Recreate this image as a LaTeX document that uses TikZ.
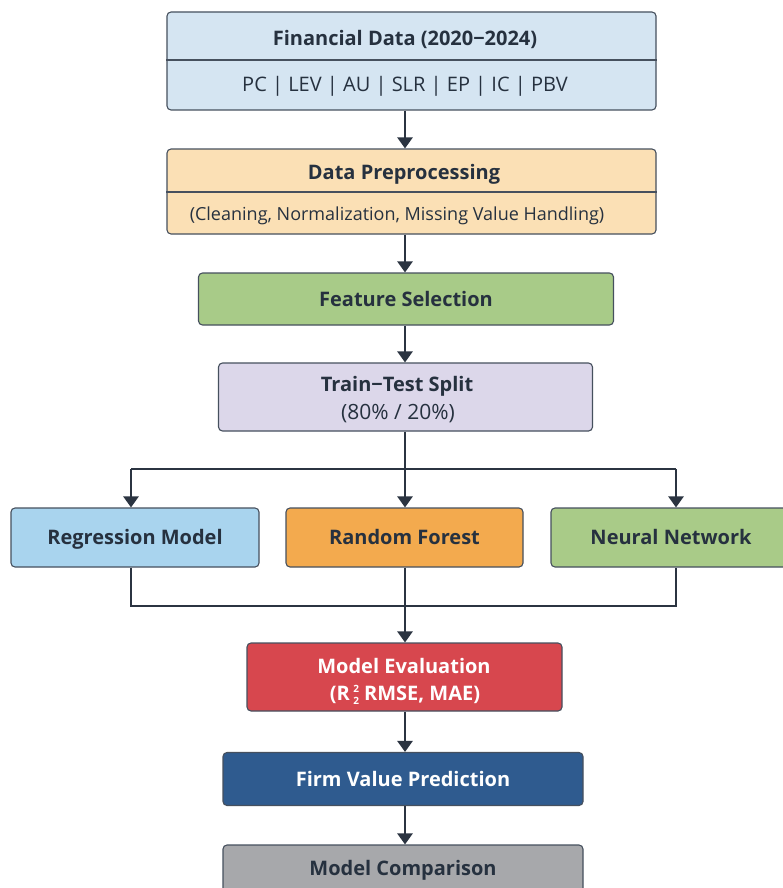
\documentclass[tikz,border=0pt]{standalone}
\usepackage{fontspec}
\setmainfont{Open Sans}
\usetikzlibrary{arrows.meta}
\definecolor{edgec}{HTML}{46505E}
\definecolor{txtc}{HTML}{26313F}
\definecolor{arrc}{HTML}{2B3441}
\definecolor{c1}{HTML}{D5E5F2}
\definecolor{c2}{HTML}{FBE0B5}
\definecolor{c3}{HTML}{A8CB88}
\definecolor{c4}{HTML}{DCD7EA}
\definecolor{c5}{HTML}{A9D4EE}
\definecolor{c6}{HTML}{F3AA4E}
\definecolor{c7}{HTML}{A9CB88}
\definecolor{c8}{HTML}{D7474E}
\definecolor{c9}{HTML}{2F5B8F}
\definecolor{c10}{HTML}{A7A8AB}
\newcommand{\rscripts}{\makebox[0pt][l]{\raisebox{8pt}{\fontsize{10}{10}\selectfont 2}}\raisebox{-4pt}{\fontsize{10}{10}\selectfont 2}}
\tikzset{
  box/.style={draw=edgec, line width=1.1pt, rounded corners=4pt, inner sep=0pt},
  lbl/.style={text=txtc, inner sep=0pt, text height=14.5pt, text depth=0.5pt, font=\fontsize{20}{24}\selectfont\bfseries},
  sub/.style={text=txtc, inner sep=0pt, text height=14.5pt, text depth=0.5pt, font=\fontsize{20}{24}\selectfont},
  arr/.style={draw=arrc, line width=2.4pt, -{Triangle[width=15pt,length=11pt]}},
  ln/.style={draw=arrc, line width=2.4pt}
}
\begin{document}
\begin{tikzpicture}[x=1pt,y=-1pt]
\useasboundingbox[fill=white] (0,0) rectangle (783,888);
\coordinate (spine) at (405,0);
% box 1
\node[box, fill=c1, minimum width=489pt, minimum height=98pt] (b1) at (411.5,61) {};
\draw[edgec, line width=1.1pt] (b1.west |- 0,60) -- (b1.east |- 0,60);
\node[lbl] (t1) at (405,39) {Financial Data (2020−2024)};
\node[sub] (s1) at (405,85) {PC | LEV | AU | SLR | EP | IC | PBV};
% box 2
\node[box, fill=c2, minimum width=489pt, minimum height=85pt] (b2) at (411.5,191.5) {};
\draw[edgec, line width=1.1pt] (b2.west |- 0,192) -- (b2.east |- 0,192);
\node[lbl] (t2) at (404,172) {Data Preprocessing};
\node[sub, font=\fontsize{18}{22}\selectfont] (s2) at (397,213) {(Cleaning, Normalization, Missing Value Handling)};
% box 3
\node[box, fill=c3, minimum width=415pt, minimum height=52pt, lbl] (b3) at (406,299) {Feature Selection};
% box 4
\node[box, fill=c4, minimum width=374pt, minimum height=68pt] (b4) at (405.5,397) {};
\node[lbl] (t4) at (397,384) {Train−Test Split};
\node[sub, font=\fontsize{21}{24}\selectfont] (s4) at (398,412) {(80\% / 20\%)};
% row
\node[box, fill=c5, minimum width=248pt, minimum height=59pt, lbl] (b5) at (135,537.5) {Regression Model};
\node[box, fill=c6, minimum width=237pt, minimum height=59pt, lbl] (b6) at (404.5,537.5) {Random Forest};
\node[box, fill=c7, minimum width=250pt, minimum height=59pt] (b7) at (676,537.5) {};
\node[lbl] (t7) at (671,537) {Neural Network};
% eval
\node[box, fill=c8, minimum width=315pt, minimum height=68pt] (b8) at (404.5,677) {};
\node[lbl, text=white] (t8) at (404,666) {Model Evaluation};
\node[lbl, text=white] (s8) at (405,693) {(R\,\rscripts\ RMSE, MAE)};
% firm
\node[box, fill=c9, minimum width=360pt, minimum height=53pt, lbl, text=white] (b9) at (403,779) {Firm Value Prediction};
% comparison
\node[box, fill=c10, minimum width=360pt, minimum height=50pt] (b10) at (403,870) {};
\node[lbl] (t10) at (403,868) {Model Comparison};
% connectors
\coordinate (bl) at (131,469);
\coordinate (br) at (676,469);
\coordinate (ml) at (131,606);
\coordinate (mr) at (676,606);
\draw[arr] (b1.south -| spine) -- (b2.north -| spine);
\draw[arr] (b2.south -| spine) -- (b3.north -| spine);
\draw[arr] (b3.south -| spine) -- (b4.north -| spine);
\draw[ln] (b4.south -| spine) -- (spine |- bl);
\draw[ln] (bl) -- (br);
\draw[arr] (bl) -- (bl |- b5.north);
\draw[arr] (spine |- bl) -- (spine |- b6.north);
\draw[arr] (br) -- (br |- b7.north);
\draw[ln] (b5.south -| ml) -- (ml) -- (mr) -- (b7.south -| mr);
\draw[ln] (b6.south -| spine) -- (spine |- ml);
\draw[arr] (spine |- ml) -- (b8.north -| spine);
\draw[arr] (b8.south -| spine) -- (b9.north -| spine);
\draw[arr] (b9.south -| spine) -- (b10.north -| spine);
\end{tikzpicture}
\end{document}
